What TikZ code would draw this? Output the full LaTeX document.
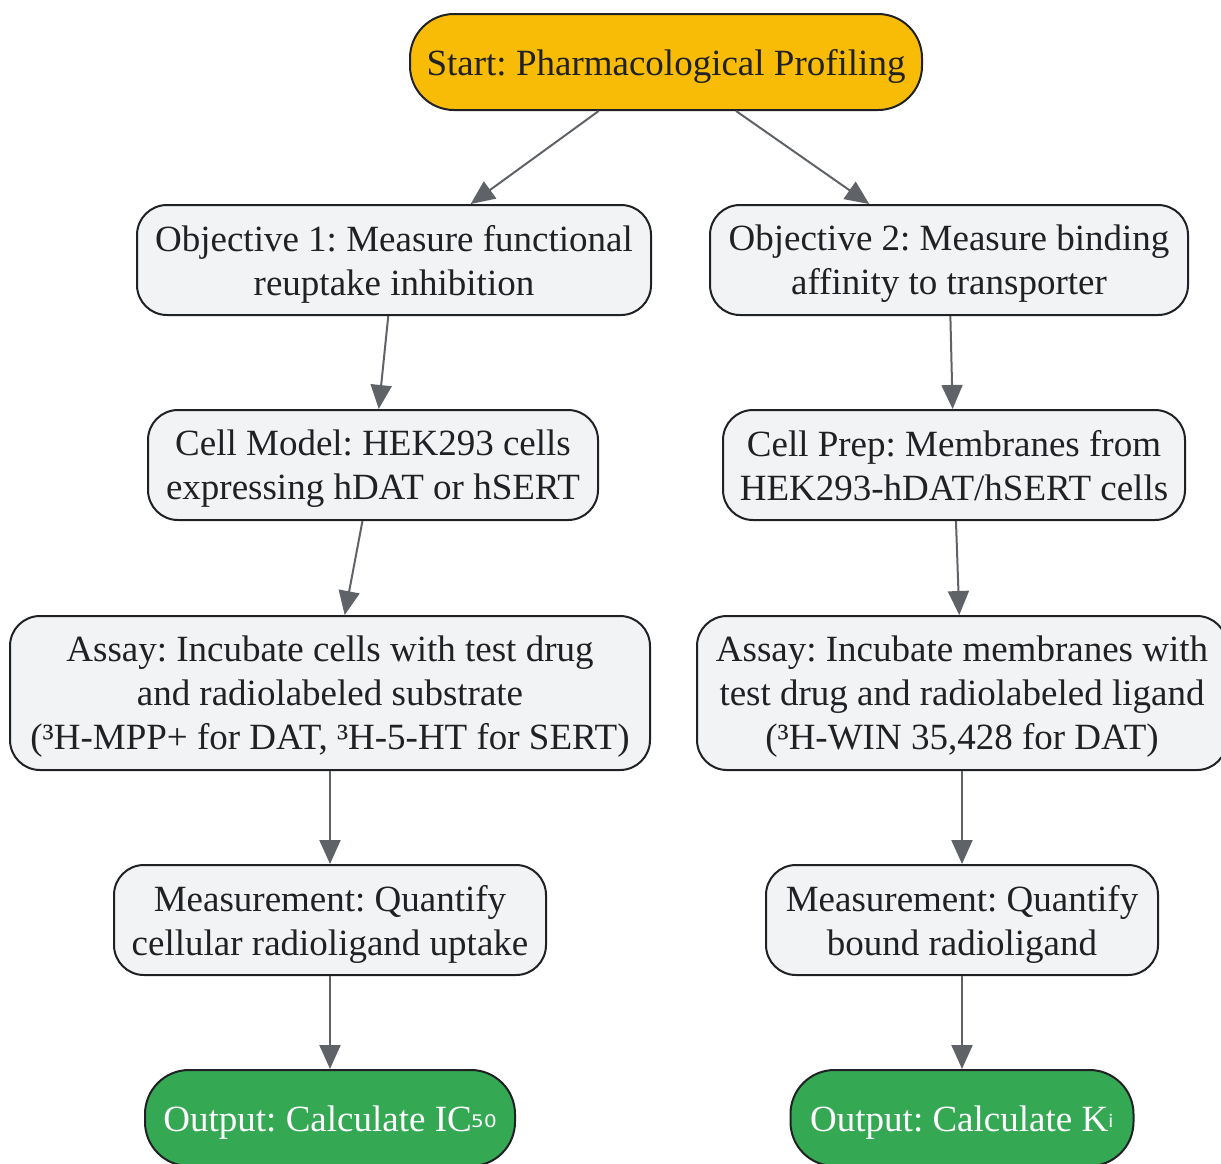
\documentclass[tikz,border=0pt]{standalone}
\usepackage{fontspec}
\setmainfont{Liberation Serif}
\newfontfamily\subfont{DejaVu Sans}
\usetikzlibrary{arrows.meta}
\definecolor{amber}{HTML}{F9BC06}
\definecolor{boxgray}{HTML}{F1F3F4}
\definecolor{okgreen}{HTML}{34A853}
\definecolor{edgegray}{HTML}{5F6368}
\definecolor{inkdark}{HTML}{202124}
\newcommand{\subtxt}[1]{\raisebox{4pt}{\subfont\fontsize{31}{36}\selectfont #1}}
\begin{document}
\frenchspacing
\begin{tikzpicture}[x=1pt,y=-1pt,
  base/.style={draw=inkdark, line width=2pt, align=center, inner sep=0pt,
    font=\fontsize{37}{44}\selectfont, text=inkdark,
    execute at begin node=\strut, execute at end node=\strut, text depth=4.6pt},
  graybox/.style={base, fill=boxgray, rounded corners=30pt, text depth=-2.4pt},
  startbox/.style={base, fill=amber, rounded corners=44pt},
  outbox/.style={base, fill=okgreen, text=white, rounded corners=44pt},
  conn/.style={draw=edgegray, line width=2pt, -{Triangle[length=24pt,width=21pt]}}]
\useasboundingbox (0,0) rectangle (1221,1163);
\clip (0,0) rectangle (1221,1163);
\node[startbox, minimum width=512pt, minimum height=96pt] (start) at (666,62) {Start: Pharmacological Profiling};
\node[graybox, minimum width=514pt, minimum height=110pt] (obj1) at (394,260) {Objective 1: Measure functional\\reuptake inhibition};
\node[graybox, minimum width=478pt, minimum height=110pt] (obj2) at (949,260) {Objective 2: Measure binding\\affinity to transporter};
\node[graybox, minimum width=450pt, minimum height=110pt] (cell1) at (373,465) {Cell Model: HEK293 cells\\expressing hDAT or hSERT};
\node[graybox, minimum width=462pt, minimum height=110pt] (cell2) at (954,465) {Cell Prep: Membranes from\\HEK293-hDAT/hSERT cells};
\node[graybox, minimum width=640pt, minimum height=154pt] (assay1) at (330,693) {Assay: Incubate cells with test drug\\and radiolabeled substrate\\(³H-MPP+ for DAT, ³H-5-HT for SERT)};
\node[graybox, minimum width=530pt, minimum height=154pt] (assay2) at (962,693) {Assay: Incubate membranes with\\test drug and radiolabeled ligand\\(³H-WIN 35,428 for DAT)};
\node[graybox, minimum width=432pt, minimum height=110pt] (meas1) at (330,920) {Measurement: Quantify\\cellular radioligand uptake};
\node[graybox, minimum width=392pt, minimum height=110pt] (meas2) at (962,920) {Measurement: Quantify\\bound radioligand};
\node[outbox, minimum width=370pt, minimum height=96pt] (out1) at (330,1118) {Output: Calculate IC\subtxt{₅₀}};
\node[outbox, minimum width=343pt, minimum height=96pt] (out2) at (962,1118) {Output: Calculate K\subtxt{ᵢ}};
\draw[conn] (start) -- (obj1);
\draw[conn] (start) -- (obj2);
\draw[conn] (obj1) -- (cell1);
\draw[conn] (obj2) -- (cell2);
\draw[conn] (cell1) -- (assay1);
\draw[conn] (cell2) -- (assay2);
\draw[conn] (assay1) -- (meas1);
\draw[conn] (assay2) -- (meas2);
\draw[conn] (meas1) -- (out1);
\draw[conn] (meas2) -- (out2);
\end{tikzpicture}
\end{document}
